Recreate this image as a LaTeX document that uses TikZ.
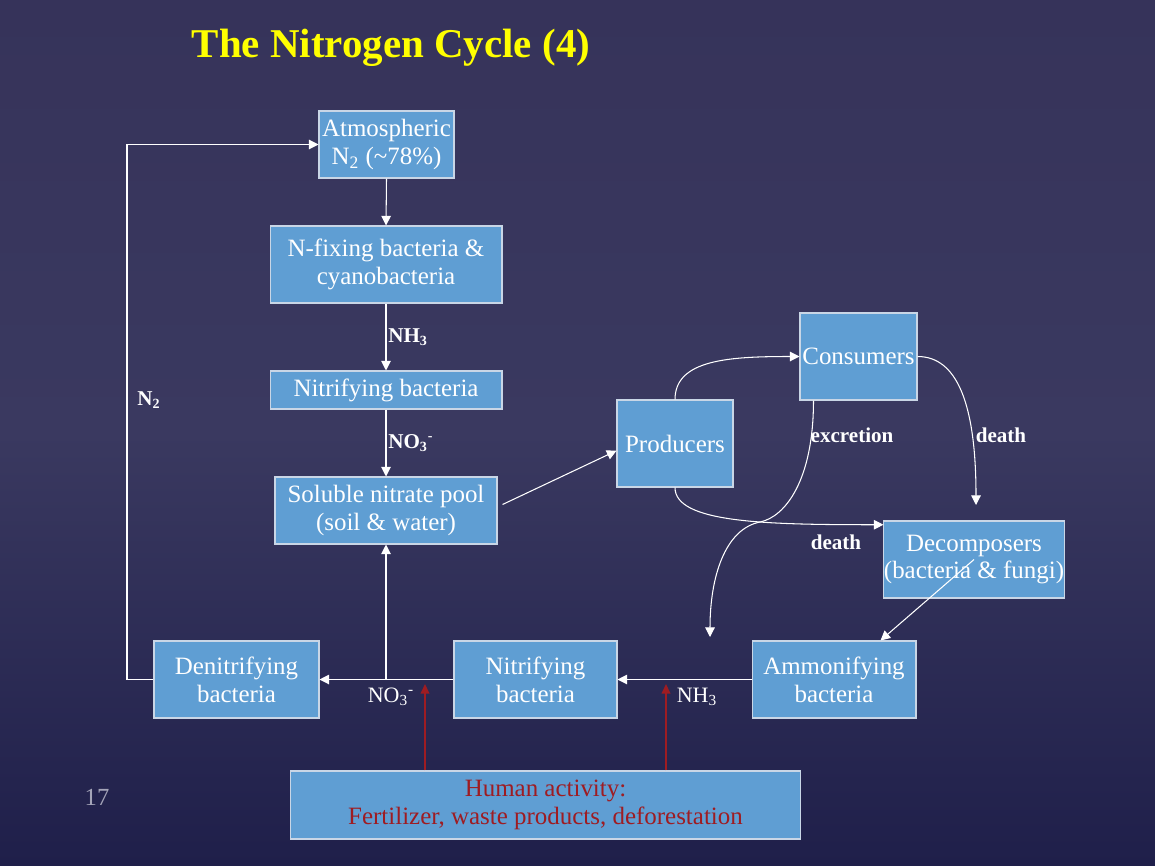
\documentclass[tikz,border=0pt]{standalone}
\usepackage{fontspec}
\setmainfont{Liberation Serif}
\usetikzlibrary{arrows.meta}
\usepackage{xcolor}
\definecolor{slidetop}{HTML}{36335A}
\definecolor{slidemid}{HTML}{3A3960}
\definecolor{slidebot}{HTML}{1F1F4A}
\definecolor{boxblue}{HTML}{5F9ED3}
\definecolor{boxedge}{HTML}{C9D6E6}
\definecolor{humanred}{HTML}{9E1C22}
\definecolor{titleyellow}{HTML}{FFFF00}
\definecolor{pagegray}{HTML}{A4A4B8}

\tikzset{
    box/.style={draw=boxedge, fill=boxblue, line width=0.6pt, text=white, align=center,
        inner sep=0pt, font=\fontsize{14.2}{15.8}\selectfont},
    flow/.style={draw=white, line width=0.6pt, -{Triangle[length=5.5pt,width=5.5pt]}},
    humanflow/.style={draw=humanred, line width=0.8pt, -{Triangle[length=5.5pt,width=5pt]}},
    lbl/.style={text=white, inner sep=1pt, font=\bfseries\fontsize{12}{14}\selectfont},
    botlbl/.style={text=white, inner sep=1pt, font=\fontsize{12.5}{14}\selectfont},
}

\begin{document}
\begin{tikzpicture}[x=0.02cm, y=-0.02cm]
        \shade[top color=slidetop, bottom color=slidebot, middle color=slidemid] (0,0) rectangle (1155,865);
        \useasboundingbox (0,0) rectangle (1155,865);

        % title and page number
        \node[text=titleyellow, font=\bfseries\fontsize{23.3}{27}\selectfont] (title) at (391,48) {The Nitrogen Cycle (4)};
        \node[text=pagegray, font=\fontsize{14}{16}\selectfont] (page) at (97,797) {17};

        % boxes
        \node[box, minimum width=2.7cm, minimum height=1.34cm] (atmos) at (386.5,144.5) {Atmospheric\\N\textsubscript{2} (\textasciitilde78\%)};
        \node[box, minimum width=4.64cm, minimum height=1.54cm] (nfix) at (386,264.5) {N-fixing bacteria \&\\cyanobacteria};
        \node[box, minimum width=4.64cm, minimum height=0.76cm] (nitrtop) at (386,390) {Nitrifying bacteria};
        \node[box, minimum width=4.44cm, minimum height=1.34cm] (pool) at (386,510.5) {Soluble nitrate pool\\(soil \& water)};
        \node[box, minimum width=2.32cm, minimum height=1.74cm] (prod) at (675,443.5) {Producers};
        \node[box, minimum width=2.34cm, minimum height=1.74cm] (cons) at (858.5,356.5) {Consumers};
        \node[box, minimum width=3.48cm, minimum height=1.54cm] (decomp) at (974,559.5) {Decomposers\\(bacteria \& fungi)};
        \node[box, minimum width=3.28cm, minimum height=1.54cm] (ammon) at (834,679.5) {Ammonifying\\bacteria};
        \node[box, minimum width=3.26cm, minimum height=1.54cm] (nitrbot) at (535.5,679.5) {Nitrifying\\bacteria};
        \node[box, minimum width=3.3cm, minimum height=1.54cm] (denit) at (236.5,679.5) {Denitrifying\\bacteria};
        \node[box, minimum width=10.22cm, minimum height=1.36cm, text=humanred] (human) at (545.5,805) {Human activity:\\Fertilizer, waste products, deforestation};

        % main column
        \draw[flow] (atmos.south) -- (nfix.north);
        \draw[flow] (nfix.south) -- node[lbl, right] (nh3top) {NH\textsubscript{3}} (nitrtop.north);
        \draw[flow] (nitrtop.south) -- node[lbl, right] (no3top) {NO\textsubscript{3}\textsuperscript{-}} (pool.north);
        \draw[flow] ([shift={(5,-6)}]pool.east) -- (prod.187);

        % food web
        \coordinate (deathtip) at (976,505);
        \coordinate (excbend) at (760,522);
        \coordinate (exctip) at (710,637);
        \draw[flow] (prod.north) .. controls +(0,-40) and +(-70,0) .. (cons.west);
        \draw[flow] (cons.east) .. controls +(40,0) and +(0,-100) .. (deathtip);
        \draw[flow] ([xshift=0.28cm]cons.south west) .. controls +(0,80) and +(25,-5) .. (excbend)
            .. controls +(-35,7) and +(0,-60) .. (exctip);
        \draw[flow] (prod.south) .. controls +(0,35) and +(-120,0) .. (decomp.159);
        \draw[flow] (decomp.center) -- (ammon.40);
        \node[lbl] (exclbl) at (852,435) {excretion};
        \node[lbl] (deathlbl) at (1001,435) {death};
        \node[lbl] (deathlbl2) at (836,542) {death};

        % bottom row
        \coordinate (no3j) at (386,679.5);
        \coordinate (n2corner) at (127,679.5);
        \draw[flow] (ammon.west) -- (nitrbot.east);
        \draw[flow] (nitrbot.west) -- (denit.east);
        \draw[flow] (no3j) -- (pool.south);
        \draw[flow] (denit.west) -- (n2corner) |- (atmos.west);
        \node[lbl] (n2lbl) at (149,400) {N\textsubscript{2}};
        \node[botlbl] (no3bot) at (391,697) {NO\textsubscript{3}\textsuperscript{-}};
        \node[botlbl] (nh3bot) at (697,697) {NH\textsubscript{3}};

        % human activity
        \coordinate (humtip1) at (425,684);
        \coordinate (humtip2) at (666,684);
        \draw[humanflow] (humtip1 |- human.north) -- (humtip1);
        \draw[humanflow] (humtip2 |- human.north) -- (humtip2);
    \end{tikzpicture}
\end{document}
